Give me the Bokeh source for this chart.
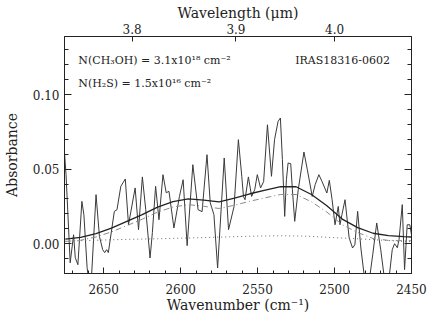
from bokeh.plotting import figure
from bokeh.models import (Range1d, LinearAxis, FixedTicker, SingleIntervalTicker,
                          CustomJSTickFormatter, NumeralTickFormatter, Label)
from bokeh.embed import file_html
from bokeh.resources import INLINE

# ---- observed spectrum (wavenumber cm^-1, absorbance) ----
spec_wn = [2675.4, 2674.5, 2671.8, 2669.6, 2668.5, 2666.8, 2664.2, 2662.9, 2660.8, 2659.7,
           2658.1, 2655.0, 2652.8, 2650.7, 2649.4, 2648.1, 2647.0, 2644.7, 2643.1, 2641.4,
           2638.9, 2636.0, 2633.9, 2629.6, 2627.4, 2624.9, 2622.7, 2619.9, 2618.4, 2616.3,
           2614.1, 2611.5, 2609.4, 2607.6, 2604.4, 2600.8, 2598.4, 2595.8, 2592.1, 2588.7,
           2586.1, 2582.9, 2580.8, 2578.4, 2576.0, 2571.7, 2568.9, 2565.3, 2562.5, 2560.3,
           2559.2, 2558.2, 2556.0, 2553.9, 2551.9, 2550.2, 2548.1, 2546.1, 2543.6, 2541.0,
           2539.0, 2536.7, 2535.2, 2533.9, 2532.4, 2531.3, 2530.2, 2528.5, 2527.4, 2525.9,
           2523.6, 2519.9, 2517.7, 2514.5, 2512.6, 2510.2, 2508.1, 2505.0, 2503.4, 2501.6,
           2499.7, 2497.6, 2496.5, 2495.2, 2493.2, 2490.5, 2488.3, 2486.8, 2485.0, 2482.9,
           2480.3, 2477.5, 2475.2, 2472.6, 2470.0, 2467.4, 2464.8, 2462.5, 2461.0, 2459.2,
           2458.1, 2456.0, 2454.5, 2452.8, 2451.1, 2450.0]
spec_abs = [0.0597, 0.0463, -0.0128, 0.0060, -0.0094, -0.0141, 0.0284, 0.0195, -0.0161, -0.025,
            -0.025, 0.0329, 0.0049, -0.0040, -0.0060, -0.0040, -0.0060, 0.0105, 0.0217, 0.0228,
            0.0385, 0.0434, 0.0127, 0.0374, 0.0094, 0.0448, 0.0228, -0.0096, 0.0074, 0.0385,
            0.0161, 0.0463, 0.0342, 0.0351, 0.0105, 0.0317, 0.0429, -0.0013, 0.0530, 0.0228,
            0.0215, 0.0597, 0.0275, 0.0195, -0.0163, 0.0575, 0.0094, 0.0250, 0.0698, 0.0452,
            0.0317, 0.0295, 0.0448, 0.0317, 0.0362, 0.0463, 0.0374, 0.0416, 0.0798, 0.0452,
            0.0698, 0.0821, 0.0843, 0.0564, 0.0183, 0.0429, 0.0541, 0.0537, 0.0362, 0.0150,
            0.0362, 0.0615, 0.0497, 0.0317, 0.0396, 0.0463, 0.0416, 0.0340, 0.0425, 0.0295,
            0.0127, 0.0250, 0.0127, 0.0195, 0.0295, 0.0038, -0.0029, -0.0007, 0.0217, -0.0029,
            -0.025, -0.025, -0.0074, 0.0139, -0.0040, -0.025, -0.025, -0.0040, 0.0000, -0.0027,
            0.0027, 0.0262, -0.0174, 0.0127, 0.0127, 0.0060]

# ---- model curves ----
fit_wn = [2675, 2665, 2655, 2645, 2635, 2625, 2615, 2605, 2595, 2585, 2575, 2565,
          2555, 2545, 2535, 2525, 2515, 2505, 2495, 2485, 2475, 2465, 2455, 2450]
fit_total = [0.0031, 0.0043, 0.0068, 0.0105, 0.0150, 0.0195, 0.0245, 0.0282, 0.0300, 0.0292,
             0.0280, 0.0305, 0.0335, 0.0360, 0.0383, 0.0382, 0.0330, 0.0255, 0.0165, 0.0108,
             0.0070, 0.0054, 0.0047, 0.0045]
fit_ch3oh = [0.0015, 0.0023, 0.0045, 0.0079, 0.0121, 0.0164, 0.0212, 0.0246, 0.0262, 0.0251,
             0.0236, 0.0258, 0.0285, 0.0308, 0.0330, 0.0330, 0.0281, 0.0212, 0.0127, 0.0075,
             0.0035, 0.0022, 0.0020, 0.0020]
fit_h2s = [0.0016, 0.0020, 0.0023, 0.0026, 0.0029, 0.0031, 0.0033, 0.0036, 0.0038, 0.0041,
           0.0044, 0.0047, 0.0050, 0.0052, 0.0053, 0.0052, 0.0049, 0.0043, 0.0038, 0.0033,
           0.0027, 0.0021, 0.0016, 0.0013]

wl_ticks = [3.8, 3.9, 4.0]

FONT = "DejaVu Serif"
INK = "#222222"

p = figure(width=436, height=319, output_backend="svg", toolbar_location=None,
           x_range=Range1d(2675.5, 2450), y_range=Range1d(-0.02, 0.139),
           min_border_left=62, min_border_right=25, min_border_top=36, min_border_bottom=46)
p.xgrid.visible = False
p.ygrid.visible = False
p.outline_line_color = INK
p.background_fill_color = "white"
p.border_fill_color = "white"


def style(ax, tick_in=7, minor_in=4):
    ax.major_tick_in = tick_in
    ax.major_tick_out = 0
    ax.minor_tick_in = minor_in
    ax.minor_tick_out = 0
    ax.axis_line_color = INK
    ax.major_tick_line_color = INK
    ax.minor_tick_line_color = INK
    ax.major_label_text_font = FONT
    ax.major_label_text_font_size = "12px"
    ax.major_label_text_color = INK
    ax.axis_label_text_font = FONT
    ax.axis_label_text_font_size = "14px"
    ax.axis_label_text_font_style = "normal"
    ax.axis_label_text_color = INK


xax = p.xaxis[0]
xax.ticker = SingleIntervalTicker(interval=50, num_minor_ticks=5)
xax.axis_label = "Wavenumber (cm⁻¹)"
style(xax, 6, 3)
xax.major_label_standoff = 10
xax.axis_label_standoff = 0

yax = p.yaxis[0]
yax.ticker = SingleIntervalTicker(interval=0.05, num_minor_ticks=5)
yax.formatter = NumeralTickFormatter(format="0.00")
yax.axis_label = "Absorbance"
style(yax)
yax.major_label_standoff = 5
yax.axis_label_standoff = 10

rax = LinearAxis(ticker=SingleIntervalTicker(interval=0.05, num_minor_ticks=5),
                 formatter=CustomJSTickFormatter(code="return '';"))
style(rax)
rax.major_label_standoff = 0
p.add_layout(rax, "right")

tax = LinearAxis(ticker=FixedTicker(ticks=[1e4 / w for w in wl_ticks], minor_ticks=[]),
                 formatter=CustomJSTickFormatter(code="return (10000/tick).toFixed(1);"),
                 axis_label="Wavelength (μm)")
style(tax, 5, 0)
tax.major_label_standoff = 3
tax.axis_label_standoff = 0
p.add_layout(tax, "above")

# curves
p.line(spec_wn, spec_abs, line_color="#3a3a3a", line_width=1)
p.line(fit_wn, fit_h2s, line_color="#6a6a6a", line_width=1, line_dash="1 3")
p.line(fit_wn, fit_ch3oh, line_color="#8a8a8a", line_width=1, line_dash="6 3 1 3")
p.line(fit_wn, fit_total, line_color="#222222", line_width=1.3)

for txt, x, y, align in [("N(CH₃OH) = 3.1x10¹⁸ cm⁻²", 2666.5, 0.123, "left"),
                         ("N(H₂S) = 1.5x10¹⁶ cm⁻²", 2666.5, 0.1073, "left"),
                         ("IRAS18316-0602", 2464.0, 0.123, "right")]:
    p.add_layout(Label(x=x, y=y, text=txt, text_font=FONT, text_font_size="11px",
                       text_color=INK, text_align=align, text_baseline="alphabetic"))

open("out.html", "w").write(file_html(p, INLINE))
